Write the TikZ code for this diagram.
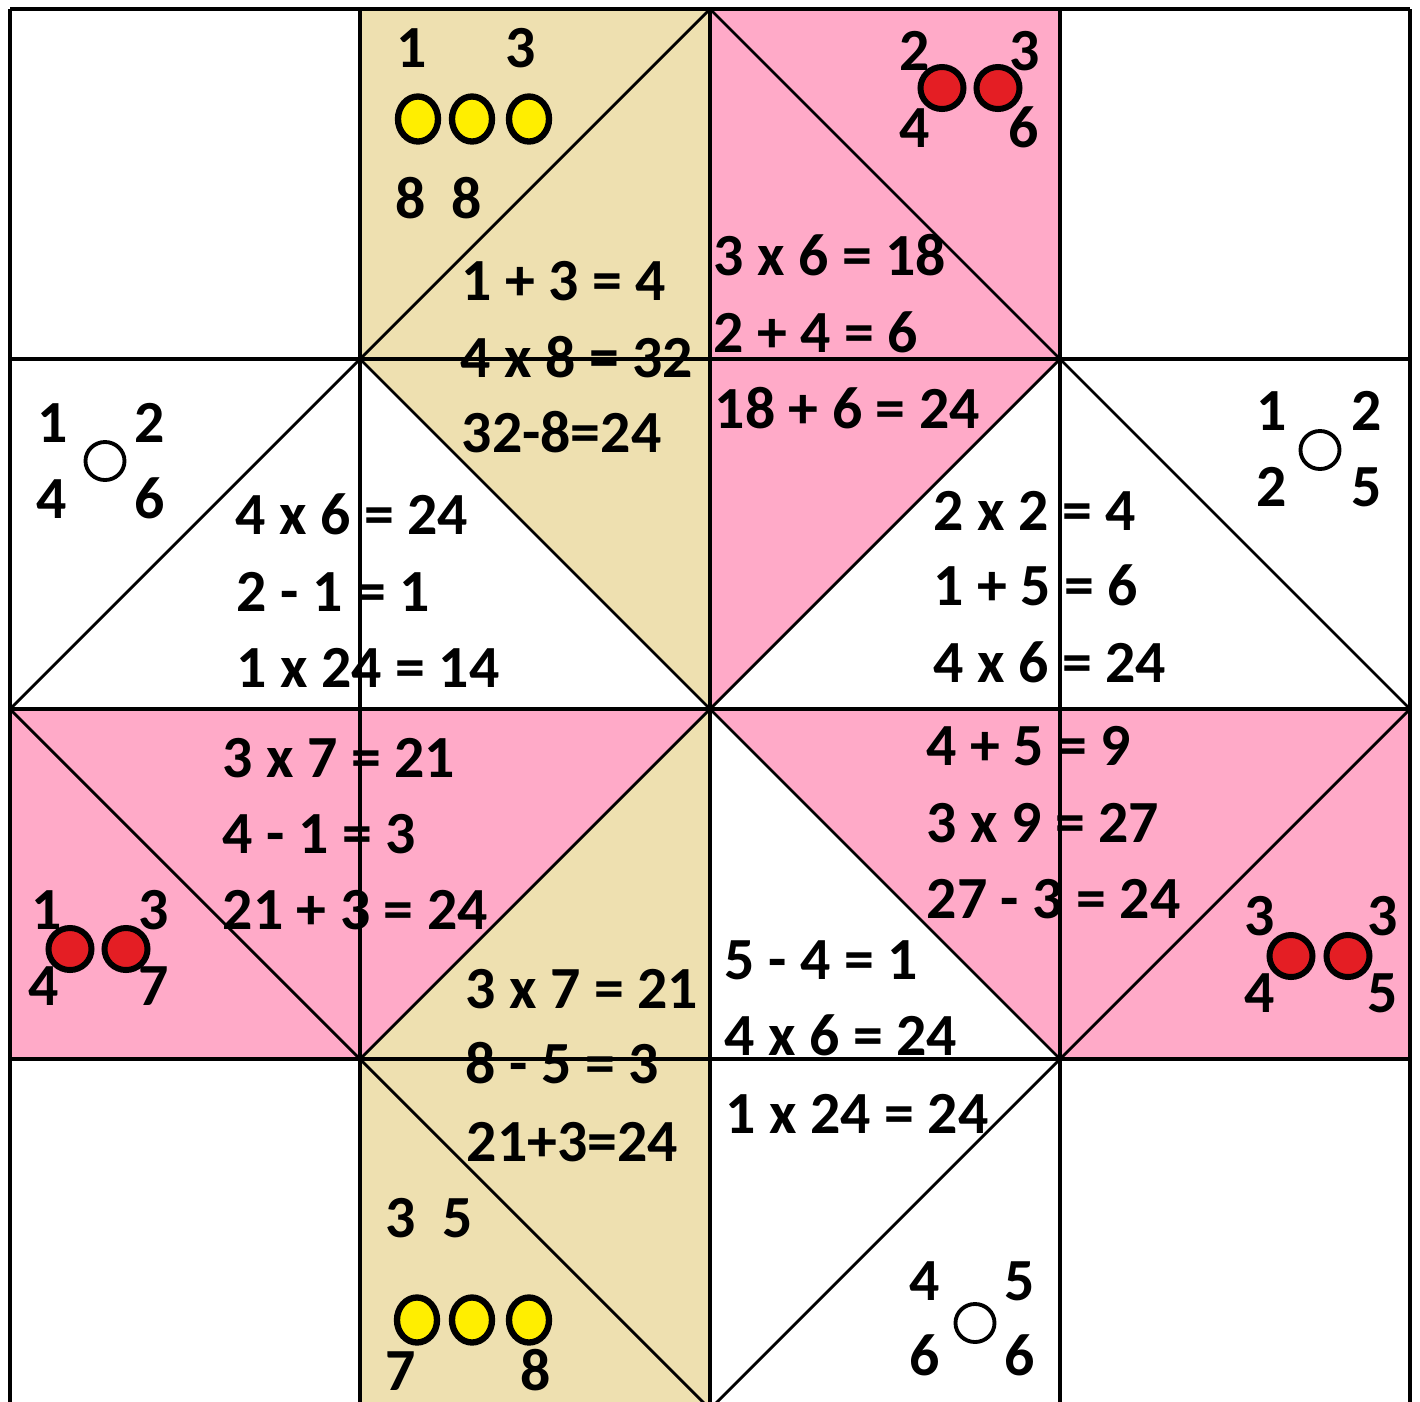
\documentclass[tikz,border=0pt]{standalone}
\usepackage{fontspec}
\setmainfont{Carlito}
\usetikzlibrary{shapes.geometric}
\definecolor{ctan}{RGB}{238,224,176}
\definecolor{cpink}{RGB}{255,170,200}
\definecolor{cyel}{RGB}{255,238,0}
\definecolor{cred}{RGB}{228,30,36}

\begin{document}
\begin{tikzpicture}[x=0.01cm,y=-0.01cm,
   font=\fontsize{17}{20}\selectfont\bfseries,
   eqn/.style={anchor=base west,inner sep=0pt},
   lbl/.style={anchor=base west,inner sep=0pt},
   ydot/.style={ellipse,draw,line width=1.8pt,fill=cyel,inner sep=0pt,minimum width=0.40cm,minimum height=0.45cm},
   rdot/.style={ellipse,draw,line width=1.7pt,fill=cred,inner sep=0pt,minimum width=0.43cm,minimum height=0.42cm},
   wdot/.style={ellipse,draw,line width=1.1pt,fill=white,inner sep=0pt,minimum width=0.39cm,minimum height=0.38cm}]
  \useasboundingbox (0,0) rectangle (1420,1402);
  \clip (0,0) rectangle (1420,1402);
  % coloured flaps
  \fill[ctan]  (360,9) -- (710,9) -- (710,709) -- (360,359) -- cycle;
  \fill[cpink] (710,9) -- (1060,9) -- (1060,359) -- (710,709) -- cycle;
  \fill[cpink] (10,709) -- (710,709) -- (360,1059) -- (10,1059) -- cycle;
  \fill[ctan]  (710,709) -- (710,1409) -- (360,1409) -- (360,1059) -- cycle;
  \fill[cpink] (710,709) -- (1410,709) -- (1410,1059) -- (1060,1059) -- cycle;
  % grid
  \foreach \k in {0,...,4} {
    \draw[line width=0.95pt] (10+350*\k,9) -- (10+350*\k,1409);
    \draw[line width=0.95pt] (10,9+350*\k) -- (1410,9+350*\k);
  }
  % fold lines
  \draw[line width=0.8pt] (710,9) -- (1410,709) -- (710,1409) -- (10,709) -- cycle;
  \draw[line width=0.8pt] (360,359) -- (1060,1059);
  \draw[line width=0.8pt] (1060,359) -- (360,1059);

  % top tan flap
  \node[lbl] (t1) at (396,67) {1};
  \node[lbl] (t3) at (505,67) {3};
  \node[ydot] (ty1) at (418,119) {};
  \node[ydot] (ty2) at (472,119) {};
  \node[ydot] (ty3) at (529,119) {};
  \node[lbl] (t8a) at (395,218) {8};
  \node[lbl] (t8b) at (451,218) {8};
  \node[eqn] (te1) at (461,300) {1 + 3 = 4};
  \node[eqn] (te2) at (460,377) {4 x 8 = 32};
  \node[eqn] (te3) at (461,452) {32-8=24};

  % top pink flap
  \node[lbl] (p2) at (899,70) {2};
  \node[lbl] (p3) at (1009,70) {3};
  \node[rdot] (pr1) at (942,88) {};
  \node[rdot] (pr2) at (998,88) {};
  \node[lbl] (p4) at (899,147) {4};
  \node[lbl] (p6) at (1008,147) {6};
  \node[eqn] (pe1) at (713,275) {3 x 6 = 18};
  \node[eqn] (pe2) at (713,352) {2 + 4 = 6};
  \node[eqn] (pe3) at (714,428) {18 + 6 = 24};

  % left white flap
  \node[lbl] (l1) at (37,442) {1};
  \node[lbl] (l2) at (134,442) {2};
  \node[wdot] (lw) at (105,461) {};
  \node[lbl] (l4) at (36,518) {4};
  \node[lbl] (l6) at (134,518) {6};
  \node[eqn] (le1) at (235,534) {4 x 6 = 24};
  \node[eqn] (le2) at (236,611) {2 - 1 = 1};
  \node[eqn] (le3) at (236,687) {1 x 24 = 14};

  % right white flap
  \node[lbl] (r1) at (1256,430) {1};
  \node[lbl] (r2) at (1351,430) {2};
  \node[wdot] (rw) at (1320,450) {};
  \node[lbl] (r2b) at (1256,506) {2};
  \node[lbl] (r5) at (1351,506) {5};
  \node[eqn] (re1) at (933,530) {2 x 2 = 4};
  \node[eqn] (re2) at (933,605) {1 + 5 = 6};
  \node[eqn] (re3) at (933,682) {4 x 6 = 24};

  % left pink flap
  \node[eqn] (lp1) at (222,777) {3 x 7 = 21};
  \node[eqn] (lp2) at (222,853) {4 - 1 = 3};
  \node[eqn] (lp3) at (222,929) {21 + 3 = 24};
  \node[lbl] (lq1) at (31,929) {1};
  \node[lbl] (lq3) at (138,929) {3};
  \node[rdot] (lr1) at (70,949) {};
  \node[rdot] (lr2) at (126,949) {};
  \node[lbl] (lq4) at (28,1005) {4};
  \node[lbl] (lq7) at (138,1005) {7};

  % right pink flap
  \node[eqn] (rp1) at (926,765) {4 + 5 = 9};
  \node[eqn] (rp2) at (926,842) {3 x 9 = 27};
  \node[eqn] (rp3) at (926,918) {27 - 3 = 24};
  \node[lbl] (rq3a) at (1244,935) {3};
  \node[lbl] (rq3b) at (1367,935) {3};
  \node[rdot] (rr1) at (1291,956) {};
  \node[rdot] (rr2) at (1348,956) {};
  \node[lbl] (rq4) at (1244,1012) {4};
  \node[lbl] (rq5) at (1367,1012) {5};

  % bottom tan flap
  \node[eqn] (be1) at (465,1008) {3 x 7 = 21};
  \node[eqn] (be2) at (465,1083) {8 - 5 = 3};
  \node[eqn] (be3) at (466,1161) {21+3=24};
  \node[lbl] (b3) at (385,1237) {3};
  \node[lbl] (b5) at (442,1237) {5};
  \node[ydot] (by1) at (417,1320) {};
  \node[ydot] (by2) at (472,1320) {};
  \node[ydot] (by3) at (529,1320) {};
  \node[lbl] (b7) at (385,1390) {7};
  \node[lbl] (b8) at (520,1390) {8};

  % bottom white flap
  \node[eqn] (we1) at (724,979) {5 - 4 = 1};
  \node[eqn] (we2) at (724,1055) {4 x 6 = 24};
  \node[eqn] (we3) at (725,1133) {1 x 24 = 24};
  \node[lbl] (w4) at (909,1300) {4};
  \node[lbl] (w5) at (1004,1300) {5};
  \node[wdot] (ww) at (975,1323) {};
  \node[lbl] (w6a) at (909,1375) {6};
  \node[lbl] (w6b) at (1004,1375) {6};
\end{tikzpicture}
\end{document}
